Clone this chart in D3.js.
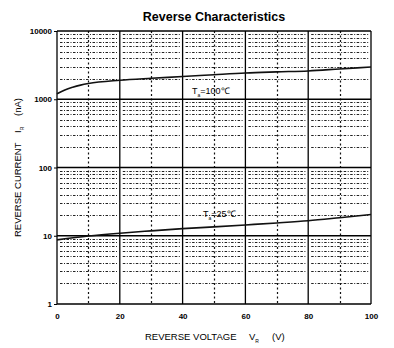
<!DOCTYPE html>
<html>
<head>
<meta charset="utf-8">
<script src="https://cdn.jsdelivr.net/npm/d3@7/dist/d3.min.js"></script>
<style>
  html, body { margin: 0; padding: 0; background: #fff; }
  svg { display: block; font-family: "Liberation Sans", Arial, sans-serif; }
</style>
</head>
<body>
<svg id="chart" width="394" height="348"></svg>
<script>
// Reverse voltage (V)
const voltage = [0, 2.5, 5, 7.5, 10, 20, 30, 40, 50, 60, 70, 80, 90, 100];
// Reverse current (nA) at Ta = 100 °C
const current100 = [1200, 1370, 1500, 1610, 1700, 1900, 2030, 2150, 2290, 2430, 2520, 2600, 2780, 2970];
// Reverse current (nA) at Ta = 25 °C
const voltage25 = [0, 10, 20, 30, 40, 50, 60, 70, 80, 90, 100];
const current25 = [8.7, 9.9, 10.9, 11.8, 12.7, 13.5, 14.4, 15.4, 16.6, 18.4, 20.5];

const xTicks = [0, 20, 40, 60, 80, 100];
const xMinor = [10, 30, 50, 70, 90];
const yTicks = [1, 10, 100, 1000, 10000];

const margin = { left: 57, right: 23, top: 31, bottom: 44 };
const W = 394, H = 348;
const svg = d3.select("#chart");

const x = d3.scaleLinear().domain([0, 100]).range([margin.left, W - margin.right]);
const y = d3.scaleLog().domain([1, 10000]).range([H - margin.bottom, margin.top]);

// minor horizontal grid (2..9 within each decade)
const yMinor = [];
for (let d = 1; d < 10000; d *= 10) for (let k = 2; k <= 9; k++) yMinor.push(d * k);

const grid = svg.append("g").attr("stroke", "#000").attr("fill", "none");
// minor lines run between the major verticals, leaving a small gap
const segs = [];
for (let i = 0; i < xTicks.length - 1; i++) segs.push([xTicks[i], xTicks[i + 1]]);
yMinor.forEach(v => segs.forEach(s => {
  const yy = Math.round(y(v)) + 0.5;
  grid.append("line")
    .attr("x1", x(s[0]) + 3).attr("x2", x(s[1]) - 2)
    .attr("y1", yy).attr("y2", yy)
    .attr("stroke", "#222").attr("stroke-width", 1).attr("stroke-dasharray", "2.5,1.5,1,1.5");
}));
grid.selectAll(".vmin").data(xMinor).join("line")
  .attr("x1", d => Math.round(x(d)) + 0.5).attr("x2", d => Math.round(x(d)) + 0.5)
  .attr("y1", y(10000)).attr("y2", y(1))
  .attr("stroke", "#111").attr("stroke-width", 1.2).attr("stroke-dasharray", "2,2.5");
grid.selectAll(".hmaj").data(yTicks).join("line")
  .attr("x1", x(0)).attr("x2", x(100))
  .attr("y1", d => y(d)).attr("y2", d => y(d))
  .attr("stroke-width", 1.3);
grid.selectAll(".vmaj").data(xTicks).join("line")
  .attr("x1", d => x(d)).attr("x2", d => x(d))
  .attr("y1", y(10000)).attr("y2", y(1))
  .attr("stroke-width", 1.3);

// axes (labels only; frame drawn by the grid)
const xAxis = svg.append("g").attr("transform", `translate(0,${y(1)})`)
  .call(d3.axisBottom(x).tickValues(xTicks).tickSize(0).tickPadding(9).tickFormat(d3.format("d")));
const yAxis = svg.append("g").attr("transform", `translate(${x(0)},0)`)
  .call(d3.axisLeft(y).tickValues(yTicks).tickSize(3).tickPadding(2).tickFormat(d3.format("d")));
[xAxis, yAxis].forEach(a => {
  a.select(".domain").remove();
  a.selectAll("text").attr("font-size", 8).attr("fill", "#000")
    .attr("font-family", "Liberation Sans, Arial, sans-serif").attr("font-weight", "bold");
  a.selectAll("line").attr("stroke", "#000");
});

// curves
const line = d3.line().x(d => x(d[0])).y(d => y(d[1])).curve(d3.curveMonotoneX);
svg.append("path").datum(voltage.map((v, i) => [v, current100[i]]))
  .attr("d", line).attr("fill", "none").attr("stroke", "#111").attr("stroke-width", 1.6);
svg.append("path").datum(voltage25.map((v, i) => [v, current25[i]]))
  .attr("d", line).attr("fill", "none").attr("stroke", "#111").attr("stroke-width", 1.6);

// curve labels
function tempLabel(px, py, temp) {
  const t = svg.append("text").attr("x", px).attr("y", py).attr("font-size", 9).attr("fill", "#000");
  t.append("tspan").text("T");
  t.append("tspan").attr("font-size", 5).attr("dy", 3).text("a");
  t.append("tspan").attr("dy", -3).text("=" + temp + "℃");
}
tempLabel(192, 94, 100);
tempLabel(203, 217, 25);

// title
svg.append("text").attr("x", 214).attr("y", 21).attr("text-anchor", "middle")
  .attr("font-size", 12.5).attr("font-weight", "bold").text("Reverse  Characteristics");

// x label
const xl = svg.append("text").attr("x", 145).attr("y", 340).attr("font-size", 9.5);
xl.append("tspan").text("REVERSE VOLTAGE");
xl.append("tspan").attr("x", 249).text("V");
xl.append("tspan").attr("font-size", 5).attr("dy", 3).text("R");
xl.append("tspan").attr("x", 272).attr("dy", -3).text("(V)");

// y label
const yl = svg.append("text").attr("transform", "translate(21,237) rotate(-90)").attr("font-size", 9.5);
yl.append("tspan").attr("x", 0).text("REVERSE CURRENT");
yl.append("tspan").attr("x", 104).text("I");
yl.append("tspan").attr("font-size", 5).attr("dy", 3).text("R");
yl.append("tspan").attr("x", 121).attr("dy", -3).text("(nA)");
</script>
</body>
</html>
